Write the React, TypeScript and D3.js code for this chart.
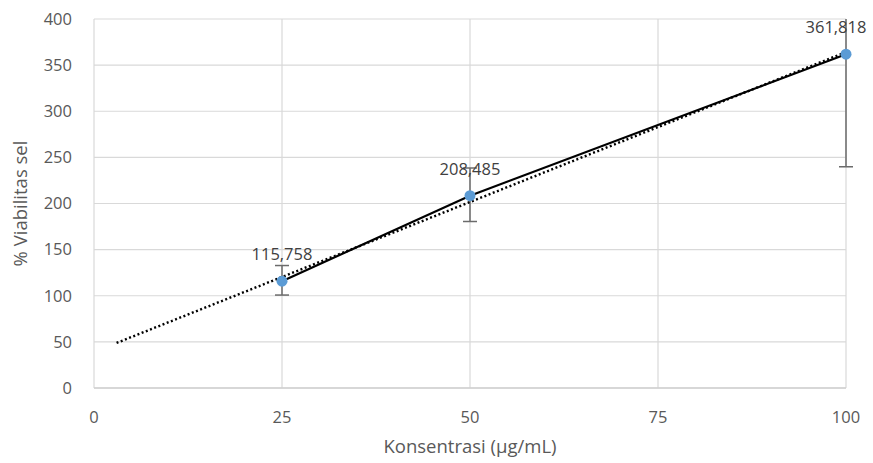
import React from 'react';
import * as d3 from 'd3';

// data
const concentrations = [25, 50, 100];
const viability = [115.758, 208.485, 361.818];
const errPlus = [17, 30, 122];
const errMinus = [15, 28, 122];
const pointLabels = ['115,758', '208,485', '361,818'];
const xTicks = [0, 25, 50, 75, 100];
const yTicks = [0, 50, 100, 150, 200, 250, 300, 350, 400];
const trendRange = [3, 100];

const W = 873;
const H = 463;
const margin = { top: 19, right: 27, bottom: 75, left: 94 };
const FONT = '"Open Sans", "Liberation Sans", sans-serif';

const App = () => {
  const x = d3.scaleLinear().domain([0, 100]).range([margin.left, W - margin.right]);
  const y = d3.scaleLinear().domain([0, 400]).range([H - margin.bottom, margin.top]);

  const pts = concentrations.map((c, i) => ({ c, v: viability[i], i }));

  // linear trendline (least squares on the points)
  const mx = d3.mean(concentrations)!;
  const my = d3.mean(viability)!;
  const sxy = d3.sum(pts, p => (p.c - mx) * (p.v - my));
  const sxx = d3.sum(pts, p => (p.c - mx) ** 2);
  const slope = sxy / sxx;
  const icpt = my - slope * mx;
  const trend = trendRange.map(t => [x(t), y(icpt + slope * t)] as [number, number]);

  const line = d3.line<typeof pts[0]>().x(p => x(p.c)).y(p => y(p.v));
  const clamp = (v: number) => Math.max(0, Math.min(400, v));

  return (
    <svg width={W} height={H} style={{ position: 'absolute', left: 0, top: 0, background: '#fff' }}>
      {/* grid */}
      {yTicks.map(t => (
        <line key={'gy' + t} x1={x(0)} x2={x(100)} y1={y(t)} y2={y(t)} stroke="#d9d9d9" strokeWidth={1.2} />
      ))}
      {xTicks.map(t => (
        <line key={'gx' + t} x1={x(t)} x2={x(t)} y1={y(0)} y2={y(400)} stroke="#d9d9d9" strokeWidth={1.2} />
      ))}
      <line x1={x(0)} x2={x(100)} y1={y(0)} y2={y(0)} stroke="#d0d0d0" strokeWidth={1.5} />

      {/* tick labels */}
      {yTicks.map(t => (
        <text key={'ty' + t} x={72} y={y(t)} dy="0.35em" textAnchor="end" fontFamily={FONT} fontSize={16.5} fill="#595959">{t}</text>
      ))}
      {xTicks.map(t => (
        <text key={'tx' + t} x={x(t)} y={423} textAnchor="middle" fontFamily={FONT} fontSize={16.5} fill="#595959">{t}</text>
      ))}

      {/* axis titles */}
      <text x={(x(0) + x(100)) / 2} y={453} textAnchor="middle" fontFamily={FONT} fontSize={18.5} fill="#595959">Konsentrasi (µg/mL)</text>
      <text transform={`translate(27,${(y(0) + y(400)) / 2}) rotate(-90)`} textAnchor="middle" fontFamily={FONT} fontSize={18.5} fill="#595959">% Viabilitas sel</text>

      {/* error bars */}
      {pts.map(p => {
        const top = y(clamp(p.v + errPlus[p.i]));
        const bot = y(clamp(p.v - errMinus[p.i]));
        const cx = x(p.c);
        return (
          <g key={'e' + p.i} stroke="#6b6b6b" strokeWidth={1.5}>
            <line x1={cx} x2={cx} y1={top} y2={bot} />
            {p.v + errPlus[p.i] <= 400 && <line x1={cx - 7} x2={cx + 7} y1={top} y2={top} />}
            <line x1={cx - 7} x2={cx + 7} y1={bot} y2={bot} />
          </g>
        );
      })}

      {/* series line */}
      <path d={line(pts)!} fill="none" stroke="#000" strokeWidth={2.2} />
      {/* trendline */}
      <path d={d3.line()(trend)!} fill="none" stroke="#000" strokeWidth={2.4} strokeDasharray="2 2.5" />

      {/* markers */}
      {pts.map(p => (
        <circle key={'m' + p.i} cx={x(p.c)} cy={y(p.v)} r={5.5} fill="#5b9bd5" />
      ))}

      {/* data labels */}
      {pts.map(p => (
        <text key={'l' + p.i} x={Math.min(x(p.c), W - 37)} y={y(p.v) - 21} textAnchor="middle" fontFamily={FONT} fontSize={16.5} fill="#404040">{pointLabels[p.i]}</text>
      ))}
    </svg>
  );
};

export default App;
